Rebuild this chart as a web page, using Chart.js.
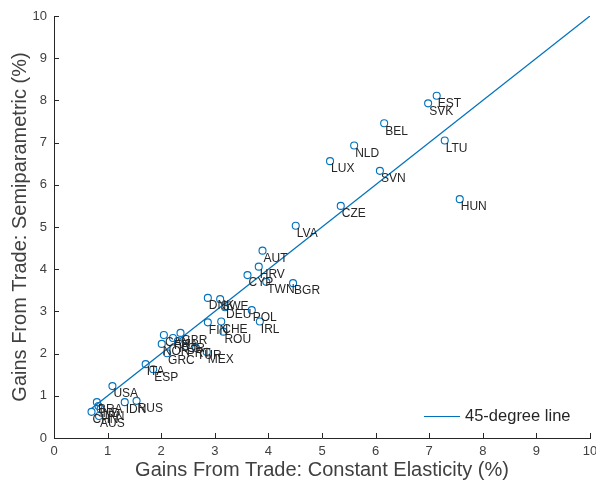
<!DOCTYPE html>
<html>
<head>
<meta charset="utf-8">
<script src="https://cdn.jsdelivr.net/npm/chart.js@4"></script>
<style>
  html, body { margin: 0; padding: 0; background: #fff; }
  #wrap { width: 596px; height: 483px; }
</style>
</head>
<body>
<div id="wrap"><canvas id="gft-chart"></canvas></div>
<script>
// country codes, constant-elasticity gains (x) and semiparametric gains (y), in %
const countries = ["EST", "SVK", "BEL", "NLD", "LUX", "LTU", "SVN", "HUN", "CZE", "LVA",
  "AUT", "HRV", "CYP", "TWN", "BGR", "DNK", "SWE", "DEU", "POL", "IRL",
  "FIN", "CHE", "ROU", "GBR", "CAN", "FRA", "KOR", "NOR", "PRT", "TUR",
  "MEX", "GRC", "ITA", "ESP", "USA", "IDN", "RUS", "BRA", "IND", "JPN",
  "CHN", "AUS"];
const constElast = [7.14, 6.98, 6.16, 5.60, 5.15, 7.29, 6.08, 7.57, 5.35, 4.51,
  3.89, 3.82, 3.61, 3.96, 4.46, 2.87, 3.10, 3.19, 3.69, 3.84,
  2.87, 3.12, 3.16, 2.36, 2.05, 2.22, 2.31, 2.01, 2.46, 2.65,
  2.85, 2.11, 1.71, 1.85, 1.09, 1.32, 1.54, 0.80, 0.83, 0.87,
  0.70, 0.84];
const semiParam = [8.11, 7.93, 7.46, 6.93, 6.56, 7.05, 6.33, 5.66, 5.50, 5.03,
  4.44, 4.06, 3.86, 3.70, 3.67, 3.32, 3.29, 3.10, 3.03, 2.76,
  2.74, 2.76, 2.52, 2.49, 2.44, 2.37, 2.30, 2.23, 2.18, 2.13,
  2.04, 2.01, 1.75, 1.63, 1.23, 0.85, 0.88, 0.85, 0.76, 0.69,
  0.62, 0.52];
// 45-degree reference line end points
const lineEnds = [0.70, 10];
const tickValues = [0, 1, 2, 3, 4, 5, 6, 7, 8, 9, 10];

const blue = "#0072BD";
const ink = "#262626";
const tickInk = "#404040";
const fontFamily = "'Liberation Sans', Arial, sans-serif";

const scatterPoints = countries.map((c, i) => ({ x: constElast[i], y: semiParam[i] }));
const linePoints = lineEnds.map(v => ({ x: v, y: v }));

// country labels sit just below and right of each marker
const countryLabels = {
  id: "countryLabels",
  afterDatasetsDraw(chart) {
    const meta = chart.getDatasetMeta(1);
    const c = chart.ctx;
    c.save();
    c.font = "12px " + fontFamily;
    c.fillStyle = ink;
    c.textAlign = "left";
    c.textBaseline = "middle";
    meta.data.forEach((pt, i) => {
      c.fillText(countries[i], pt.x + 1, pt.y + 8);
    });
    c.restore();
  }
};

// matlab-style inward ticks plus the legend in the lower right
const axisExtras = {
  id: "axisExtras",
  afterDraw(chart) {
    const { ctx: c, chartArea: area, scales: { x, y } } = chart;
    c.save();
    c.strokeStyle = ink;
    c.lineWidth = 1;
    c.beginPath();
    tickValues.forEach(v => {
      const px = Math.round(x.getPixelForValue(v)) + 0.5;
      c.moveTo(px, area.bottom);
      c.lineTo(px, area.bottom - 5);
      const py = Math.round(y.getPixelForValue(v)) + 0.5;
      c.moveTo(area.left, py);
      c.lineTo(area.left + 5, py);
    });
    c.stroke();

    const ly = area.bottom - 22;
    const lx = area.right - 166;
    c.strokeStyle = blue;
    c.beginPath();
    c.moveTo(lx, ly + 0.5);
    c.lineTo(lx + 36, ly + 0.5);
    c.stroke();
    c.font = "16.5px " + fontFamily;
    c.fillStyle = ink;
    c.textAlign = "left";
    c.textBaseline = "middle";
    c.fillText("45-degree line", lx + 41, ly);
    c.restore();
  }
};

new Chart(document.getElementById("gft-chart"), {
  type: "scatter",
  data: {
    datasets: [
      {
        label: "45-degree line",
        data: linePoints,
        showLine: true,
        borderColor: blue,
        borderWidth: 1.3,
        pointRadius: 0,
        pointHoverRadius: 0
      },
      {
        label: "countries",
        data: scatterPoints,
        pointStyle: "circle",
        pointRadius: 3.5,
        pointBorderWidth: 1.1,
        borderColor: blue,
        backgroundColor: "rgba(0,0,0,0)",
        pointBackgroundColor: "rgba(0,0,0,0)"
      }
    ]
  },
  options: {
    responsive: true,
    maintainAspectRatio: false,
    animation: false,
    layout: { padding: { top: 16, right: 6, left: 0, bottom: 0 } },
    plugins: {
      legend: { display: false },
      tooltip: { enabled: false }
    },
    scales: {
      x: {
        type: "linear",
        min: 0,
        max: 10,
        afterBuildTicks: s => { s.ticks = tickValues.map(v => ({ value: v })); },
        afterFit: s => { s.height = 45; s.paddingLeft = 0; s.paddingRight = 0; },
        grid: { display: false, drawTicks: false },
        border: { display: true, color: ink, width: 1 },
        ticks: { color: tickInk, font: { size: 13, family: fontFamily }, padding: 6, maxRotation: 0 },
        title: {
          display: true,
          text: "Gains From Trade: Constant Elasticity (%)",
          color: tickInk,
          font: { size: 20, family: fontFamily },
          padding: { top: 0, bottom: 1 }
        }
      },
      y: {
        type: "linear",
        min: 0,
        max: 10,
        afterBuildTicks: s => { s.ticks = tickValues.map(v => ({ value: v })); },
        afterFit: s => { s.width = 54; s.paddingTop = 0; s.paddingBottom = 0; },
        grid: { display: false, drawTicks: false },
        border: { display: true, color: ink, width: 1 },
        ticks: { color: tickInk, font: { size: 13, family: fontFamily }, padding: 7 },
        title: {
          display: true,
          text: "Gains From Trade: Semiparametric (%)",
          color: tickInk,
          font: { size: 20, family: fontFamily },
          padding: { top: 8, bottom: 0 }
        }
      }
    }
  },
  plugins: [countryLabels, axisExtras]
});
</script>
</body>
</html>
